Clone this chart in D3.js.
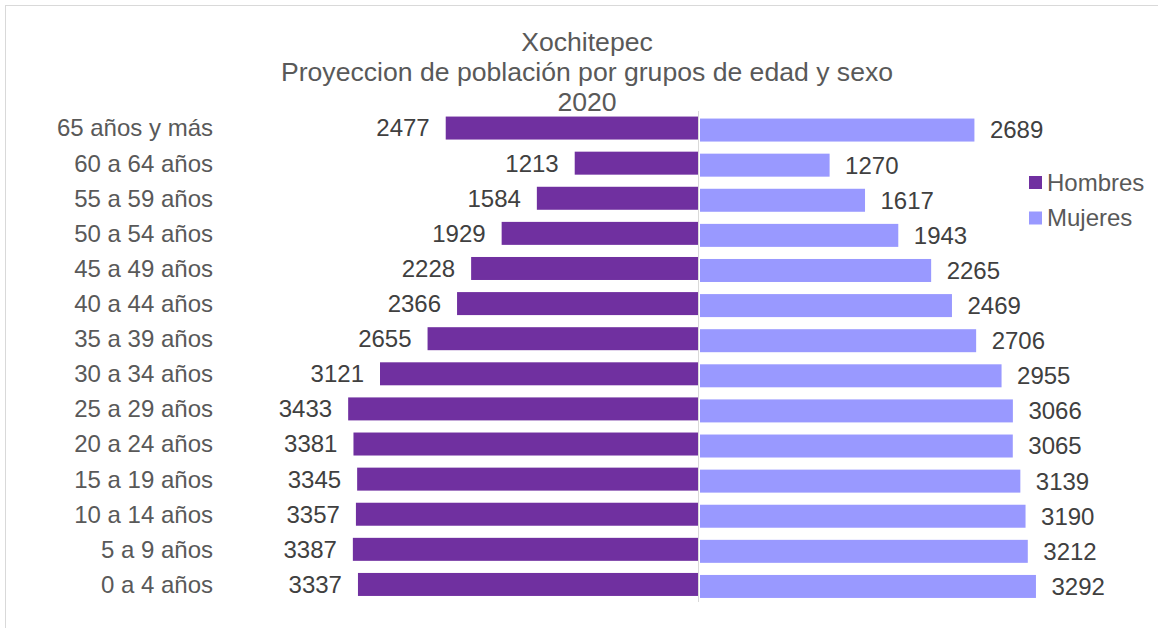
<!DOCTYPE html>
<html>
<head>
<meta charset="utf-8">
<script src="https://cdn.jsdelivr.net/npm/d3@7"></script>
<style>
  body { margin: 0; background: #fff; }
  svg { font-family: "Liberation Sans", Arial, sans-serif; }
</style>
</head>
<body>
<div id="chart"></div>
<script>
var groups = ["0 a 4 años", "5 a 9 años", "10 a 14 años", "15 a 19 años", "20 a 24 años",
  "25 a 29 años", "30 a 34 años", "35 a 39 años", "40 a 44 años", "45 a 49 años",
  "50 a 54 años", "55 a 59 años", "60 a 64 años", "65 años y más"];
var hombres = [3337, 3387, 3357, 3345, 3381, 3433, 3121, 2655, 2366, 2228, 1929, 1584, 1213, 2477];
var mujeres = [3292, 3212, 3190, 3139, 3065, 3066, 2955, 2706, 2469, 2265, 1943, 1617, 1270, 2689];
var titleLines = ["Xochitepec", "Proyeccion de población por grupos de edad y sexo", "2020"];
var seriesNames = ["Hombres", "Mujeres"];
var colors = ["#7030a0", "#9999ff"];

var w = 1158, h = 628;
var cx = 698.5;

var svg = d3.select("#chart").append("svg").attr("width", w).attr("height", h);

// frame
svg.append("rect")
  .attr("x", 5.5).attr("y", 5.5)
  .attr("width", 1170).attr("height", 640)
  .attr("fill", "none").attr("stroke", "#d9d9d9");

var yScale = d3.scaleBand()
  .domain(groups.slice().reverse())
  .range([110.5, 602])
  .paddingInner(0.345)
  .paddingOuter(0.1725);

var xScale = d3.scaleLinear().domain([0, 1000]).range([0, 102.05]);

// title
svg.selectAll("text.title")
  .data(titleLines)
  .enter()
  .append("text")
  .attr("class", "title")
  .attr("x", 587)
  .attr("y", function (d, i) { return 51 + i * 30; })
  .attr("text-anchor", "middle")
  .style("font-size", "26.6px")
  .style("fill", "#595959")
  .text(function (d) { return d; });

// men bars
svg.selectAll("rect.h")
  .data(hombres)
  .enter()
  .append("rect")
  .attr("class", "h")
  .attr("x", function (d) { return cx - xScale(d); })
  .attr("y", function (d, i) { return yScale(groups[i]); })
  .attr("width", function (d) { return xScale(d); })
  .attr("height", yScale.bandwidth())
  .style("fill", colors[0]);

// women bars
svg.selectAll("rect.m")
  .data(mujeres)
  .enter()
  .append("rect")
  .attr("class", "m")
  .attr("x", cx + 1.5)
  .attr("y", function (d, i) { return yScale(groups[i]) + 2; })
  .attr("width", function (d) { return xScale(d); })
  .attr("height", yScale.bandwidth())
  .style("fill", colors[1]);

// center axis
svg.append("line")
  .attr("x1", cx).attr("x2", cx)
  .attr("y1", 111).attr("y2", 602)
  .attr("stroke", "#d9d9d9").attr("stroke-width", 1);

// category labels
svg.selectAll("text.cat")
  .data(groups)
  .enter()
  .append("text")
  .attr("class", "cat")
  .attr("x", 213)
  .attr("y", function (d) { return yScale(d) + yScale.bandwidth() / 2; })
  .attr("dy", "0.35em")
  .attr("text-anchor", "end")
  .style("font-size", "24px")
  .style("fill", "#595959")
  .text(function (d) { return d; });

// value labels
svg.selectAll("text.hv")
  .data(hombres)
  .enter()
  .append("text")
  .attr("class", "hv")
  .attr("x", function (d) { return cx - xScale(d) - 16; })
  .attr("y", function (d, i) { return yScale(groups[i]) + yScale.bandwidth() / 2; })
  .attr("dy", "0.35em")
  .attr("text-anchor", "end")
  .style("font-size", "24px")
  .style("fill", "#404040")
  .text(function (d) { return d; });

svg.selectAll("text.mv")
  .data(mujeres)
  .enter()
  .append("text")
  .attr("class", "mv")
  .attr("x", function (d) { return cx + 1 + xScale(d) + 16; })
  .attr("y", function (d, i) { return yScale(groups[i]) + 2 + yScale.bandwidth() / 2; })
  .attr("dy", "0.35em")
  .attr("text-anchor", "start")
  .style("font-size", "24px")
  .style("fill", "#404040")
  .text(function (d) { return d; });

// legend
var legend = svg.selectAll("g.legend")
  .data(seriesNames)
  .enter()
  .append("g")
  .attr("class", "legend")
  .attr("transform", function (d, i) { return "translate(1029," + (182.5 + i * 35.5) + ")"; });

legend.append("rect")
  .attr("x", 0).attr("y", -6.5)
  .attr("width", 13).attr("height", 13)
  .style("fill", function (d, i) { return colors[i]; });

legend.append("text")
  .attr("x", 18)
  .attr("dy", "0.35em")
  .style("font-size", "24px")
  .style("fill", "#595959")
  .text(function (d) { return d; });
</script>
</body>
</html>
